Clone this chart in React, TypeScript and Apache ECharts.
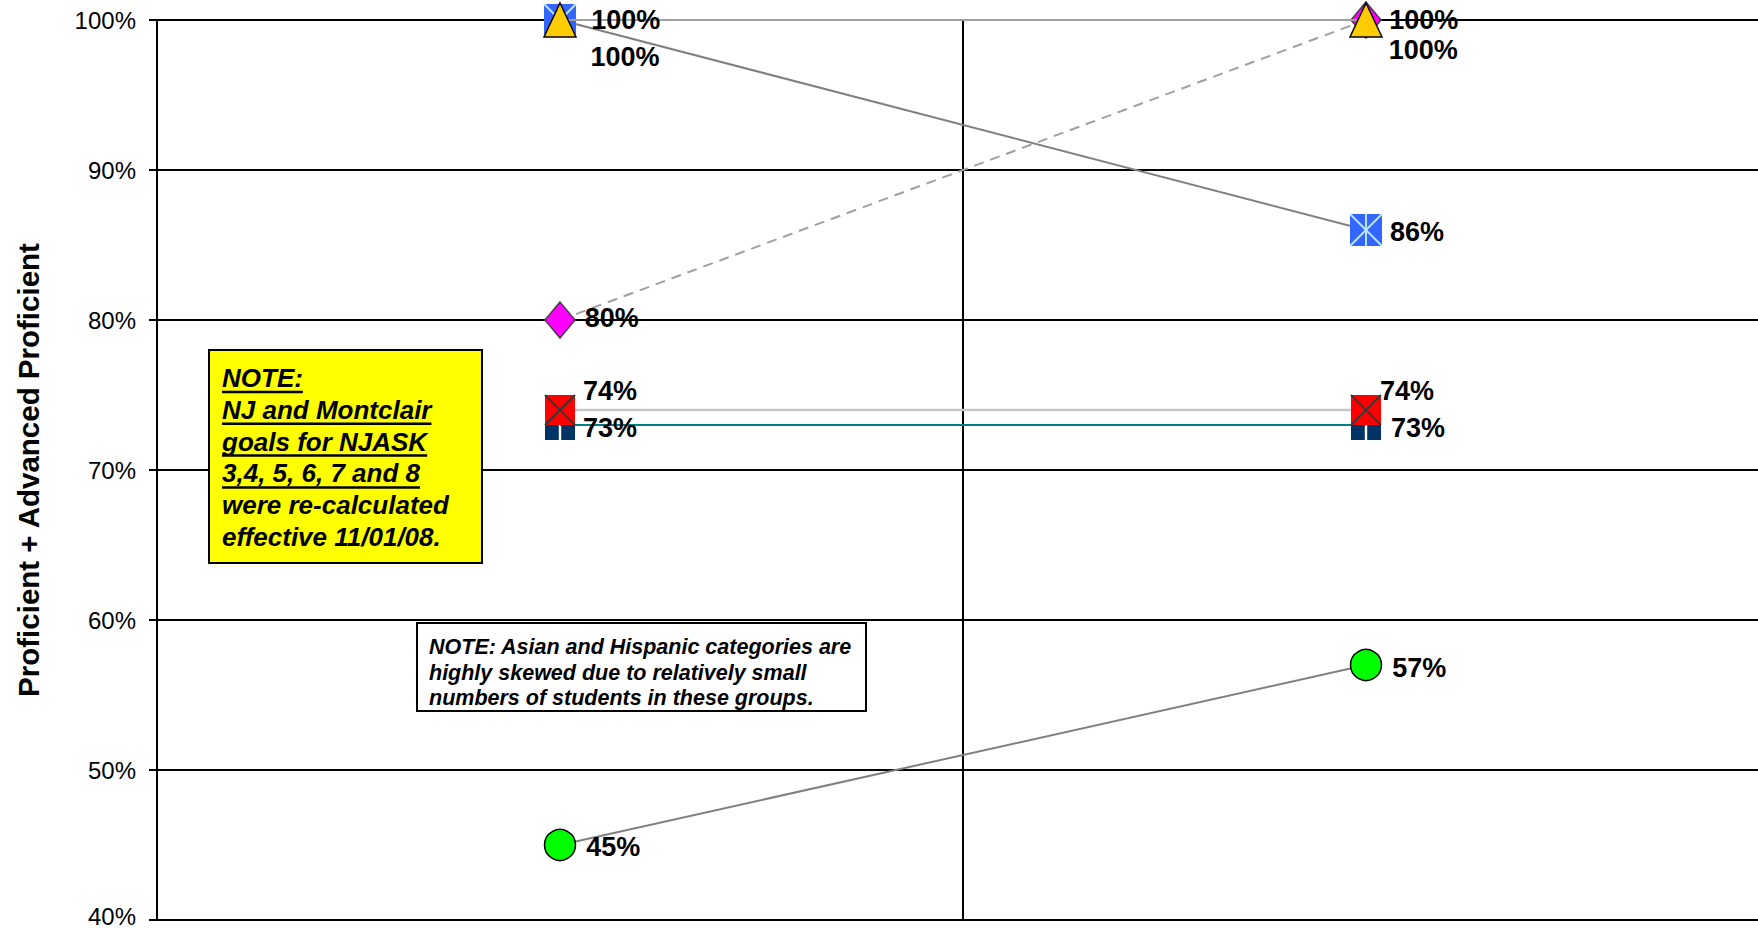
import React, { useEffect, useRef } from "react";
import * as echarts from "echarts";

// ---- data ----
const categories = ["Year 1", "Year 2"];
const yMin = 40;
const yMax = 100;
const yStep = 10;
const starSquareValues = [100, 86];
const triangleValues = [100, 100];
const diamondValues = [80, 100];
const xSquareValues = [74, 74];
const plusSquareValues = [73, 73];
const circleValues = [45, 57];

const yAxisTitle = "Proficient + Advanced Proficient";
const goalNoteLines = [
  "NOTE:",
  "NJ and Montclair",
  "goals for NJASK",
  "3,4, 5, 6, 7 and 8",
  "were re-calculated",
  "effective 11/01/08.",
];
const goalNoteUnderlined = [true, true, true, true, false, false];
const skewNoteLines = [
  "NOTE: Asian and Hispanic categories are",
  "highly skewed due to relatively small",
  "numbers of students in these groups.",
];

const FONT = 'Arial, "Liberation Sans", sans-serif';

function measure(text: string, font: string): number {
  const c = document.createElement("canvas");
  const ctx = c.getContext("2d");
  if (!ctx) return text.length * 12;
  ctx.font = font;
  return ctx.measureText(text).width;
}

function withOffsets(values: number[], offsets: number[][]) {
  return values.map((v, i) => ({ value: v, label: { offset: offsets[i] } }));
}

// custom-series overlay that draws line strokes on top of a marker
function markOverlay(
  name: string,
  values: number[],
  half: number,
  segments: number[][],
  stroke: string,
  lineWidth: number,
  z: number
) {
  return {
    name,
    type: "custom",
    silent: true,
    z,
    coordinateSystem: "cartesian2d",
    data: values.map((v, i) => [i, v]),
    encode: { x: 0, y: 1 },
    renderItem: (_params: any, api: any) => {
      const p = api.coord([api.value(0), api.value(1)]);
      return {
        type: "group",
        children: segments.map((s) => ({
          type: "line",
          shape: {
            x1: p[0] + s[0] * half,
            y1: p[1] + s[1] * half,
            x2: p[0] + s[2] * half,
            y2: p[1] + s[3] * half,
          },
          style: { stroke, lineWidth, fill: null },
        })),
      };
    },
  };
}

export default function App() {
  const ref = useRef<HTMLDivElement>(null);

  useEffect(() => {
    if (!ref.current) return;
    const chart = echarts.init(ref.current, null, { renderer: "svg" });

    const labelBase = {
      show: true,
      position: "right",
      distance: 10,
      formatter: "{c}%",
      fontSize: 27,
      fontWeight: "bold",
      color: "#000",
      fontFamily: FONT,
    };

    // --- annotation graphics ---
    const noteFont = "italic bold 26px " + FONT;
    const graphics: any[] = [];
    graphics.push({
      type: "rect",
      shape: { x: 209, y: 350, width: 273, height: 213 },
      style: { fill: "#FFFF00", stroke: "#000", lineWidth: 2 },
      z: 10,
    });
    goalNoteLines.forEach((line, i) => {
      const cy = 378 + i * 31.8;
      graphics.push({
        type: "text",
        x: 222,
        y: cy,
        style: {
          text: line,
          font: noteFont,
          fill: "#000",
          align: "left",
          verticalAlign: "middle",
        },
        z: 11,
      });
      if (goalNoteUnderlined[i]) {
        const w = measure(line, noteFont);
        graphics.push({
          type: "line",
          shape: { x1: 222, y1: cy + 14, x2: 222 + w, y2: cy + 14 },
          style: { stroke: "#000", lineWidth: 2.5 },
          z: 11,
        });
      }
    });

    const skewFont = "italic bold 21.5px " + FONT;
    graphics.push({
      type: "rect",
      shape: { x: 417, y: 623, width: 449, height: 88 },
      style: { fill: "#FFFFFF", stroke: "#000", lineWidth: 2 },
      z: 10,
    });
    skewNoteLines.forEach((line, i) => {
      graphics.push({
        type: "text",
        x: 429,
        y: 647 + i * 25.5,
        style: {
          text: line,
          font: skewFont,
          fill: "#000",
          align: "left",
          verticalAlign: "middle",
        },
        z: 11,
      });
    });

    const option: any = {
      animation: false,
      backgroundColor: "#fff",
      textStyle: { fontFamily: FONT },
      grid: {
        left: 157,
        top: 20,
        width: 1612,
        height: 900,
        containLabel: false,
        outerBoundsMode: "none",
      },
      xAxis: {
        type: "category",
        data: categories,
        boundaryGap: true,
        axisLine: { show: true, lineStyle: { color: "#000", width: 2 } },
        axisTick: { show: false },
        axisLabel: { show: false },
        splitLine: { show: true, lineStyle: { color: "#000", width: 2 } },
      },
      yAxis: {
        type: "value",
        min: yMin,
        max: yMax,
        interval: yStep,
        name: yAxisTitle,
        nameLocation: "middle",
        nameGap: 114,
        nameTextStyle: {
          fontSize: 29.5,
          fontWeight: "bold",
          color: "#000",
          fontFamily: FONT,
        },
        axisLine: { show: true, lineStyle: { color: "#000", width: 2 } },
        axisTick: { show: true, length: 8, lineStyle: { color: "#000", width: 2 } },
        axisLabel: {
          formatter: (v: number) => (v === yMin ? "{low|" + v + "%}" : v + "%"),
          fontSize: 24,
          color: "#000",
          margin: 21,
          fontFamily: FONT,
          rich: {
            low: {
              fontSize: 24,
              color: "#000",
              fontFamily: FONT,
              padding: [0, 0, 7, 0],
            },
          },
        },
        splitLine: { show: true, lineStyle: { color: "#000", width: 2 } },
      },
      series: [
        {
          name: "Navy square",
          type: "line",
          clip: false,
          z: 2,
          data: withOffsets(plusSquareValues, [
            [-2, 3],
            [0, 3],
          ]),
          symbol: "path://M0,0H4.6V10H0ZM5.4,0H10V10H5.4Z",
          symbolSize: 30,
          itemStyle: { color: "#003366" },
          lineStyle: { color: "#008080", width: 2 },
          label: labelBase,
          emphasis: { disabled: true },
        },
        {
          name: "Red square",
          type: "line",
          clip: false,
          z: 3,
          data: withOffsets(xSquareValues, [
            [-2, -19],
            [-11, -19],
          ]),
          symbol: "rect",
          symbolSize: 30,
          itemStyle: { color: "#FF0000" },
          lineStyle: { color: "#C8C8C8", width: 2.5 },
          label: labelBase,
          emphasis: { disabled: true },
        },
        markOverlay(
          "Red square mark",
          xSquareValues,
          15,
          [
            [-1, -1, 1, 1],
            [1, -1, -1, 1],
          ],
          "#383838",
          2,
          4
        ),
        {
          name: "Green circle",
          type: "line",
          clip: false,
          z: 3,
          data: withOffsets(circleValues, [
            [0, 2],
            [0, 3],
          ]),
          symbol: "circle",
          symbolSize: 31,
          itemStyle: { color: "#00FF00", borderColor: "#000", borderWidth: 1.5 },
          lineStyle: { color: "#808080", width: 2 },
          label: labelBase,
          emphasis: { disabled: true },
        },
        {
          name: "Blue star square",
          type: "line",
          clip: false,
          z: 5,
          data: withOffsets(starSquareValues, [
            [4.5, 37],
            [-2, 2],
          ]),
          symbol: "rect",
          symbolSize: 32,
          itemStyle: { color: "#3366FF" },
          lineStyle: { color: "#808080", width: 2 },
          label: labelBase,
          emphasis: { disabled: true },
        },
        markOverlay(
          "Blue star mark",
          starSquareValues,
          16,
          [
            [-1, -1, 1, 1],
            [1, -1, -1, 1],
            [0, -1, 0, 1],
          ],
          "#B8E4FF",
          2,
          6
        ),
        {
          name: "Magenta diamond",
          type: "line",
          clip: false,
          z: 7,
          data: withOffsets(diamondValues, [
            [-1, -2],
            [-3, 30],
          ]),
          symbol: "diamond",
          symbolSize: [30, 36],
          itemStyle: { color: "#FF00FF", borderColor: "#404040", borderWidth: 1.5 },
          lineStyle: { color: "#A0A0A0", width: 2, type: [10, 7] },
          label: labelBase,
          emphasis: { disabled: true },
        },
        {
          name: "Yellow triangle",
          type: "line",
          clip: false,
          z: 8,
          data: withOffsets(triangleValues, [
            [4.5, 0],
            [-3.5, 0],
          ]),
          symbol: "triangle",
          symbolSize: [32, 34],
          itemStyle: { color: "#FFCC00", borderColor: "#000", borderWidth: 1.5 },
          lineStyle: { color: "#A0A0A0", width: 2 },
          label: labelBase,
          emphasis: { disabled: true },
        },
      ],
      graphic: graphics,
    };

    chart.setOption(option);
    return () => chart.dispose();
  }, []);

  return (
    <div
      ref={ref}
      style={{ position: "absolute", left: 0, top: 0, width: 1758, height: 930 }}
    />
  );
}
